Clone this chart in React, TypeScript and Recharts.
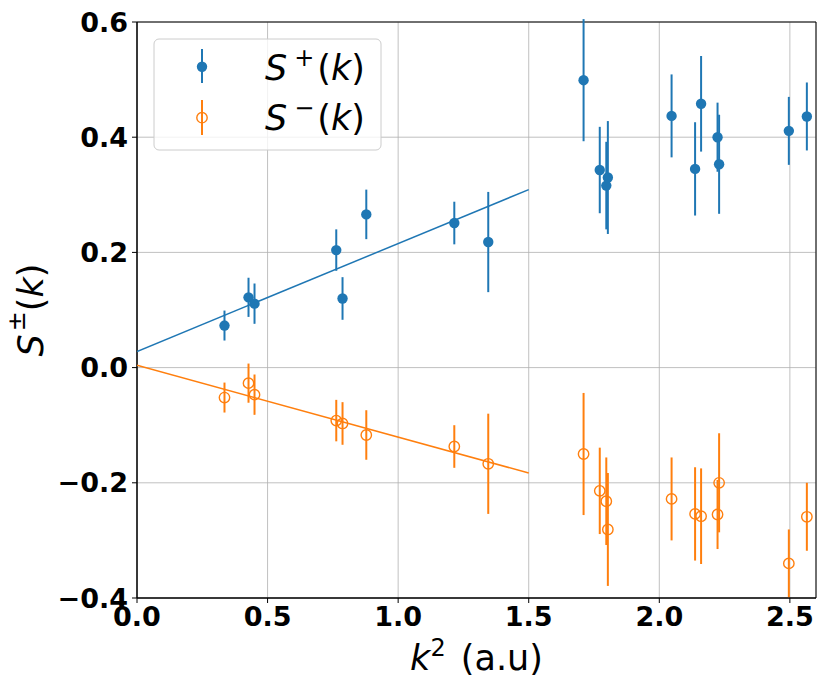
import React from 'react';
import {
  ComposedChart,
  Scatter,
  XAxis,
  YAxis,
  CartesianGrid,
  ErrorBar,
  ReferenceArea,
} from 'recharts';

// ---- data ----
const k2 = [0.335, 0.427, 0.45, 0.763, 0.787, 0.878, 1.215, 1.345, 1.71, 1.772, 1.797, 1.803, 2.047, 2.137, 2.16, 2.223, 2.229, 2.496, 2.565];
const sPlus = [0.073, 0.122, 0.111, 0.204, 0.12, 0.266, 0.251, 0.218, 0.499, 0.343, 0.316, 0.33, 0.437, 0.345, 0.458, 0.4, 0.353, 0.411, 0.436];
const sMinus = [-0.052, -0.027, -0.047, -0.092, -0.097, -0.117, -0.137, -0.167, -0.15, -0.214, -0.232, -0.281, -0.228, -0.254, -0.258, -0.255, -0.2, -0.34, -0.259];
const sErr = [0.026, 0.034, 0.035, 0.036, 0.037, 0.043, 0.037, 0.087, 0.106, 0.075, 0.076, 0.098, 0.072, 0.081, 0.083, 0.06, 0.086, 0.059, 0.059];

const fitK2 = [0, 1.5];
const fitPlus = [0.028, 0.309];
const fitMinus = [0.004, -0.183];

const xTicks = [0, 0.5, 1.0, 1.5, 2.0, 2.5];
const yTicks = [-0.4, -0.2, 0.0, 0.2, 0.4, 0.6];
const xDomain = [0, 2.6];
const yDomain = [-0.4, 0.6];

const BLUE = '#1f77b4';
const ORANGE = '#ff7f0e';
const FONT = "'DejaVu Sans', sans-serif";

const plusData = k2.map((x, i) => ({ x, y: sPlus[i], err: sErr[i] }));
const minusData = k2.map((x, i) => ({ x, y: sMinus[i], err: sErr[i] }));
const fitPlusData = fitK2.map((x, i) => ({ x, y: fitPlus[i] }));
const fitMinusData = fitK2.map((x, i) => ({ x, y: fitMinus[i] }));

const fmt = (v: number) => {
  const s = Math.abs(v).toFixed(1);
  return v < -1e-9 ? '\u2212' + s : s;
};

const tickStyle = { fontSize: 27, fontWeight: 'bold' as const, fontFamily: FONT, fill: '#000' };

const FilledDot = (p: any) => <circle cx={p.cx} cy={p.cy} r={5.2} fill={BLUE} />;
const HollowDot = (p: any) => (
  <circle cx={p.cx} cy={p.cy} r={5.2} fill="none" stroke={ORANGE} strokeWidth={1.4} />
);
const NoDot = () => <g />;

const XLabel = (props: any) => {
  const vb = props.viewBox || {};
  const cx = vb.x + vb.width / 2;
  return (
    <text x={cx} y={670} textAnchor="middle" fontFamily={FONT} fontSize={35} fill="#000">
      <tspan fontStyle="italic">k</tspan>
      <tspan dy={-14} fontSize={24}>2</tspan>
      <tspan dy={14} dx={4}> (a.u)</tspan>
    </text>
  );
};

const YLabel = (props: any) => {
  const vb = props.viewBox || {};
  const cy = vb.y + vb.height / 2;
  return (
    <text
      x={31}
      y={cy}
      transform={`rotate(-90, 31, ${cy})`}
      textAnchor="middle"
      dominantBaseline="central"
      fontFamily={FONT}
      fontSize={35}
      fill="#000"
    >
      <tspan fontStyle="italic">S</tspan>
      <tspan dy={-14} fontSize={24} dx={3}>±</tspan>
      <tspan dy={14}>(</tspan>
      <tspan fontStyle="italic">k</tspan>
      <tspan>)</tspan>
    </text>
  );
};

const LegendBox = () => (
  <svg width={229} height={113} style={{ position: 'absolute', left: 153, top: 38 }}>
    <rect x={1} y={1} width={227} height={111} rx={5} ry={5} fill="rgba(255,255,255,0.8)" stroke="#cccccc" strokeWidth={1} />
    <line x1={49} x2={49} y1={11} y2={45} stroke={BLUE} strokeWidth={2} />
    <circle cx={49} cy={28.7} r={5.2} fill={BLUE} />
    <line x1={49} x2={49} y1={62} y2={97} stroke={ORANGE} strokeWidth={2} />
    <circle cx={49} cy={79.7} r={5.2} fill="#fff" fillOpacity={0} stroke={ORANGE} strokeWidth={1.4} />
    <text x={112} y={42} fontFamily={FONT} fontSize={35} fill="#000">
      <tspan fontStyle="italic">S</tspan>
      <tspan dx={7} dy={-14} fontSize={24}>+</tspan>
      <tspan dy={14} dx={3}>(</tspan>
      <tspan fontStyle="italic">k</tspan>
      <tspan>)</tspan>
    </text>
    <text x={112} y={92} fontFamily={FONT} fontSize={35} fill="#000">
      <tspan fontStyle="italic">S</tspan>
      <tspan dx={7} dy={-14} fontSize={24}>{'\u2212'}</tspan>
      <tspan dy={14} dx={3}>(</tspan>
      <tspan fontStyle="italic">k</tspan>
      <tspan>)</tspan>
    </text>
  </svg>
);

export default function App() {
  return (
    <div style={{ position: 'absolute', left: 0, top: 0, width: 830, height: 692, background: '#fff' }}>
      <ComposedChart width={830} height={692} margin={{ top: 22, right: 14, bottom: 0, left: 0 }}>
        <CartesianGrid stroke="#b0b0b0" strokeWidth={0.8} />
        <XAxis
          dataKey="x"
          type="number"
          domain={xDomain}
          ticks={xTicks}
          allowDataOverflow
          tickFormatter={fmt}
          tick={tickStyle}
          tickSize={5}
          tickMargin={4}
          height={94}
          axisLine={{ stroke: '#000' }}
          tickLine={{ stroke: '#000' }}
          label={{ content: XLabel }}
        />
        <YAxis
          dataKey="y"
          type="number"
          domain={yDomain}
          ticks={yTicks}
          allowDataOverflow
          tickFormatter={fmt}
          tick={tickStyle}
          tickSize={5}
          tickMargin={4}
          width={137}
          axisLine={{ stroke: '#000' }}
          tickLine={{ stroke: '#000' }}
          label={{ content: YLabel }}
        />
        <Scatter
          data={fitPlusData}
          line={{ stroke: BLUE, strokeWidth: 1.5 }}
          lineType="joint"
          shape={NoDot}
          isAnimationActive={false}
        />
        <Scatter
          data={fitMinusData}
          line={{ stroke: ORANGE, strokeWidth: 1.5 }}
          lineType="joint"
          shape={NoDot}
          isAnimationActive={false}
        />
        <Scatter data={plusData} shape={FilledDot} fill={BLUE} isAnimationActive={false}>
          <ErrorBar dataKey="err" direction="y" width={0} stroke={BLUE} strokeWidth={2} isAnimationActive={false} />
        </Scatter>
        <Scatter data={minusData} shape={HollowDot} fill={ORANGE} isAnimationActive={false}>
          <ErrorBar dataKey="err" direction="y" width={0} stroke={ORANGE} strokeWidth={2} isAnimationActive={false} />
        </Scatter>
        <ReferenceArea
          x1={xDomain[0]}
          x2={xDomain[1]}
          y1={yDomain[0]}
          y2={yDomain[1]}
          fill="none"
          stroke="#000"
          strokeWidth={1}
          ifOverflow="visible"
        />
      </ComposedChart>
      <LegendBox />
    </div>
  );
}
